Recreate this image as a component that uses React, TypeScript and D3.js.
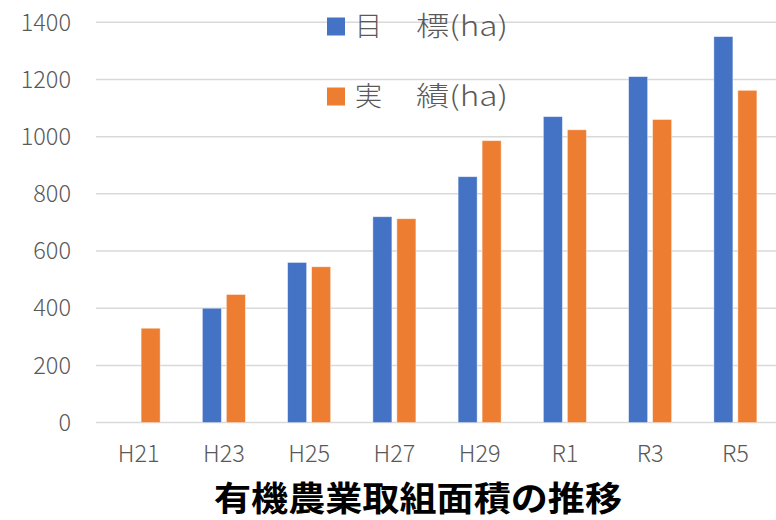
import * as d3 from 'd3';
import React, { useRef, useEffect } from 'react';

const categories = ['H21', 'H23', 'H25', 'H27', 'H29', 'R1', 'R3', 'R5'];
const targetValues: (number | null)[] = [null, 400, 560, 720, 860, 1070, 1210, 1350];
const actualValues: (number | null)[] = [330, 448, 545, 713, 986, 1024, 1060, 1162];
const yTicks = [0, 200, 400, 600, 800, 1000, 1200, 1400];
const seriesNames = ['target', 'actual'];
const legendLabels = [['目', '標(ha)'], ['実', '績(ha)']];
const colors = ['#4472C4', '#ED7D31'];
const title = '有機農業取組面積の推移';

const W = 776;
const H = 520;
const FONT = '"Noto Sans CJK JP", sans-serif';

function App() {
  const ref = useRef<SVGSVGElement>(null);

  useEffect(() => {
    const svg = d3.select(ref.current);
    svg.selectAll('*').remove();

    const left = 96, right = 778, top = 22.3, bottom = 422.6;

    const x = d3.scaleBand().domain(categories).range([left, right]).padding(0);
    // two bars per group: 19px wide, 5px gap
    const xs = d3.scaleBand().domain(seriesNames)
      .range([0, x.bandwidth()])
      .paddingInner(0.208)
      .paddingOuter(0.88);
    const y = d3.scaleLinear().domain([0, 1400]).range([bottom, top]);

    svg.append('rect').attr('width', W).attr('height', H).attr('fill', '#fff');

    // gridlines
    svg.append('g')
      .selectAll('line')
      .data(yTicks)
      .enter()
      .append('line')
      .attr('x1', left)
      .attr('x2', right)
      .attr('y1', d => y(d))
      .attr('y2', d => y(d))
      .attr('stroke', '#d9d9d9')
      .attr('stroke-width', 1.5);

    // y labels
    svg.append('g')
      .selectAll('text')
      .data(yTicks)
      .enter()
      .append('text')
      .attr('x', 71)
      .attr('y', d => y(d))
      .attr('dy', '0.35em')
      .attr('text-anchor', 'end')
      .attr('font-family', FONT)
      .attr('font-weight', 300)
      .attr('font-size', 23.5)
      .attr('fill', '#595959')
      .text(d => d);

    // x labels
    svg.append('g')
      .selectAll('text')
      .data(categories)
      .enter()
      .append('text')
      .attr('x', d => (x(d) as number) + x.bandwidth() / 2)
      .attr('y', 454)
      .attr('dy', '0.35em')
      .attr('text-anchor', 'middle')
      .attr('font-family', FONT)
      .attr('font-weight', 300)
      .attr('font-size', 23.5)
      .attr('fill', '#595959')
      .text(d => d);

    // bars
    const series = [targetValues, actualValues];
    series.forEach((vals, si) => {
      svg.append('g')
        .selectAll('rect')
        .data(categories.map((c, i) => ({ c, v: vals[i] })).filter(d => d.v != null))
        .enter()
        .append('rect')
        .attr('x', d => (x(d.c) as number) + (xs(seriesNames[si]) as number))
        .attr('y', d => y(d.v as number))
        .attr('width', xs.bandwidth())
        .attr('height', d => bottom - y(d.v as number))
        .attr('fill', colors[si])
        .attr('stroke', '#fff')
        .attr('stroke-opacity', 0.5)
        .attr('stroke-width', 0.8);
    });

    // legend
    const legendY = [26.5, 96.5];
    legendLabels.forEach((lab, i) => {
      const g = svg.append('g');
      g.append('rect')
        .attr('x', 327)
        .attr('y', legendY[i] - 9)
        .attr('width', 18)
        .attr('height', 18)
        .attr('fill', colors[i]);
      const t = g.append('text')
        .attr('y', legendY[i])
        .attr('dy', '0.36em')
        .attr('font-family', FONT)
        .attr('font-weight', 300)
        .attr('font-size', 27)
        .attr('fill', '#595959');
      t.append('tspan').attr('x', 355).text(lab[0]);
      t.append('tspan').attr('x', 416)
        .attr('textLength', 92)
        .attr('lengthAdjust', 'spacingAndGlyphs')
        .text(lab[1]);
    });

    // title
    svg.append('text')
      .attr('x', 418)
      .attr('y', 499)
      .attr('dy', '0.36em')
      .attr('text-anchor', 'middle')
      .attr('font-family', FONT)
      .attr('font-weight', 700)
      .attr('font-size', 34)
      .attr('textLength', 408)
      .attr('lengthAdjust', 'spacingAndGlyphs')
      .attr('fill', '#000')
      .text(title);
  }, []);

  return (
    <svg ref={ref} width={W} height={H}
      style={{ position: 'absolute', left: 0, top: 0, display: 'block' }} />
  );
}

export default App;
